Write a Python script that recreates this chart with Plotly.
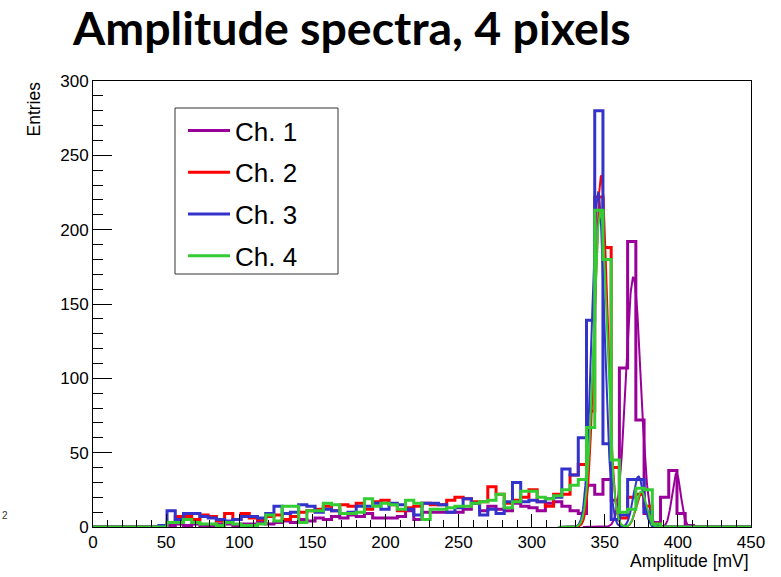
import numpy as np
import plotly.graph_objects as go

# ---------------- data ----------------
n_bins = 80
x_lo, x_hi = 0.0, 450.0

names = ["Ch. 1", "Ch. 2", "Ch. 3", "Ch. 4"]
colors = ["#990099", "#ff0000", "#3333cc", "#33cc33"]

ch1 = ([0] * 8 +
       [0, 1, 2, 1, 2, 1, 1, 2, 2, 1] +
       [2, 2, 3, 2, 3, 4, 3, 5, 4, 6] +
       [5, 7, 6, 8, 7, 9, 6, 6, 6, 7] +
       [11, 5, 10, 10, 10, 10, 10, 12, 16, 11] +
       [14, 12, 11, 16, 14, 13, 11, 16, 17, 14] +
       [11, 9, 28, 22, 32, 18, 107, 192, 72, 9] +
       [3, 20, 38, 9, 1, 0, 0, 0, 0, 0, 0, 0])

ch2 = ([0] * 8 +
       [0, 3, 7, 7, 5, 8, 7, 4, 9, 5] +
       [9, 6, 5, 7, 8, 5, 7, 10, 11, 12] +
       [14, 11, 15, 14, 16, 12, 17, 18, 15, 11] +
       [13, 14, 16, 15, 15, 18, 20, 19, 17, 17] +
       [27, 22, 16, 18, 20, 25, 17, 14, 22, 22] +
       [35, 42, 78, 222, 188, 40, 6, 20, 22, 14] +
       [2, 0, 0, 0, 0, 0, 0, 0, 0, 0, 0, 0])

ch3 = ([0] * 8 +
       [1, 11, 5, 9, 9, 7, 6, 5, 4, 5] +
       [7, 7, 6, 9, 14, 9, 10, 15, 14, 10] +
       [12, 11, 9, 10, 14, 14, 16, 12, 16, 15] +
       [12, 8, 16, 16, 15, 10, 13, 19, 16, 8] +
       [12, 9, 17, 30, 17, 18, 17, 19, 20, 39] +
       [35, 60, 139, 280, 56, 5, 8, 32, 32, 10] +
       [1, 0, 0, 0, 0, 0, 0, 0, 0, 0, 0, 0])

ch4 = ([0] * 8 +
       [0, 3, 3, 5, 3, 2, 2, 1, 3, 2] +
       [1, 1, 2, 8, 4, 14, 14, 3, 11, 11] +
       [16, 15, 9, 9, 10, 19, 14, 16, 15, 12] +
       [18, 16, 5, 12, 12, 13, 14, 14, 16, 17] +
       [18, 22, 13, 17, 24, 24, 20, 19, 21, 25] +
       [28, 32, 67, 213, 180, 45, 10, 12, 26, 25] +
       [2, 0, 0, 0, 0, 0, 0, 0, 0, 0, 0, 0])

channels = [ch1, ch2, ch3, ch4]

# double-gaussian fit parameters
fit_amp_main = [168, 236, 225, 212]
fit_mean_main = [369.5, 347.5, 345.5, 347.0]
fit_sigma_main = [5.0, 4.3, 4.3, 4.6]
fit_amp_sec = [36, 22, 34, 24]
fit_mean_sec = [399.0, 375.0, 373.0, 375.0]
fit_sigma_sec = [3.0, 3.5, 3.5, 3.5]
fit_lo = [335, 318, 318, 318]
fit_hi = [412, 392, 392, 392]

x_ticks = [0, 50, 100, 150, 200, 250, 300, 350, 400, 450]
y_ticks = [0, 50, 100, 150, 200, 250, 300]

# ---------------- figure ----------------
edges = np.linspace(x_lo, x_hi, n_bins + 1)
fig = go.Figure()

for i in range(4):
    vals = list(channels[i])
    fig.add_trace(go.Scatter(
        x=edges, y=vals + [vals[-1]], mode="lines",
        line=dict(shape="hv", color=colors[i], width=3),
        name=names[i], legendgroup=names[i], showlegend=True,
        hoverinfo="skip"))
    xf = np.linspace(fit_lo[i], fit_hi[i], 400)
    yf = (fit_amp_main[i] * np.exp(-0.5 * ((xf - fit_mean_main[i]) / fit_sigma_main[i]) ** 2) +
          fit_amp_sec[i] * np.exp(-0.5 * ((xf - fit_mean_sec[i]) / fit_sigma_sec[i]) ** 2))
    fig.add_trace(go.Scatter(
        x=xf, y=yf, mode="lines",
        line=dict(color=colors[i], width=2),
        showlegend=False, legendgroup=names[i], hoverinfo="skip"))

W, H = 781, 577
L, R, T, B = 93, 30, 81, 50
pw, ph = W - L - R, H - T - B

def px(xp):
    return (xp - L) / pw

def py(yp):
    return (H - B - yp) / ph

tick_font = dict(family="Liberation Sans, Arial, sans-serif", size=17, color="black")

fig.update_layout(
    width=W, height=H,
    margin=dict(l=L, r=R, t=T, b=B),
    paper_bgcolor="white", plot_bgcolor="white",
    showlegend=True,
    legend=dict(
        x=px(183), y=py(107), xanchor="left", yanchor="top",
        bgcolor="rgba(0,0,0,0)", borderwidth=0,
        font=dict(family="Liberation Sans, Arial, sans-serif", size=26, color="black"),
        traceorder="grouped", tracegroupgap=5, itemwidth=42,
    ),
    xaxis=dict(
        range=[x_lo, x_hi], tickvals=x_ticks, ticks="inside", ticklen=13,
        tickwidth=1, tickcolor="black",
        minor=dict(ticks="inside", dtick=10, ticklen=7, tickcolor="black", tickwidth=1),
        showline=True, linecolor="black", linewidth=1, mirror=True,
        showgrid=False, zeroline=False, tickfont=tick_font,
    ),
    yaxis=dict(
        range=[0, 300], tickvals=y_ticks, ticks="inside", ticklen=19,
        tickwidth=1, tickcolor="black",
        minor=dict(ticks="inside", dtick=10, ticklen=10, tickcolor="black", tickwidth=1),
        showline=True, linecolor="black", linewidth=1, mirror=True,
        showgrid=False, zeroline=False, tickfont=tick_font,
    ),
    shapes=[dict(type="rect", xref="paper", yref="paper",
                 x0=px(175), x1=px(338), y0=py(274), y1=py(108),
                 line=dict(color="#333333", width=1), layer="above")],
    annotations=[
        dict(text="<b>Amplitude spectra, 4 pixels</b>", xref="paper", yref="paper",
             x=px(351), y=py(27), xanchor="center", yanchor="middle", showarrow=False,
             font=dict(family="Lato, Carlito, sans-serif", size=46.5, color="black")),
        dict(text="Amplitude [mV]", xref="paper", yref="paper",
             x=1.0, y=py(561), xanchor="right", yanchor="middle", showarrow=False,
             font=dict(family="Liberation Sans, Arial, sans-serif", size=17.5, color="black")),
        dict(text="Entries", xref="paper", yref="paper", textangle=-90,
             x=px(33), y=py(80), xanchor="center", yanchor="top", showarrow=False,
             font=dict(family="Liberation Sans, Arial, sans-serif", size=17.5, color="black")),
        dict(text="2", xref="paper", yref="paper",
             x=px(5), y=py(515), xanchor="center", yanchor="middle", showarrow=False,
             font=dict(family="Liberation Sans, Arial, sans-serif", size=10, color="#333333")),
    ],
)

fig.write_html("out.html")
